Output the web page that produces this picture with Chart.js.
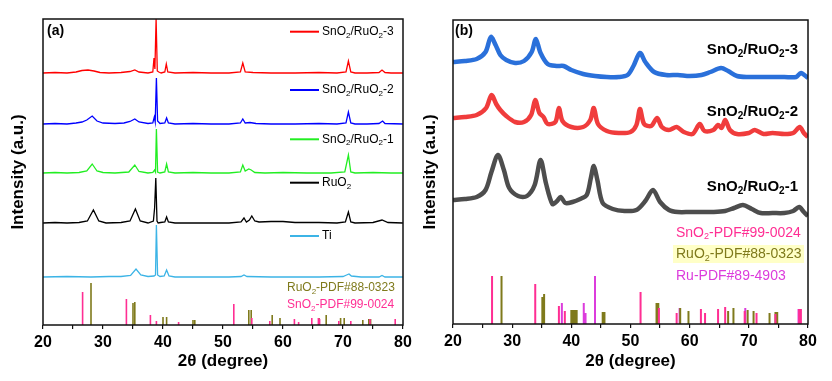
<!DOCTYPE html>
<html><head><meta charset="utf-8">
<script src="https://cdn.jsdelivr.net/npm/chart.js@4"></script>
<style>
html,body{margin:0;padding:0;background:#fff;}
#wrap{position:relative;width:832px;height:381px;background:#fff;}
.panel{position:absolute;top:0;width:416px;height:381px;}
</style></head><body>
<div id="wrap">
<div class="panel" style="left:0"><canvas id="chartA" width="416" height="381"></canvas></div>
<div class="panel" style="left:416px"><canvas id="chartB" width="416" height="381"></canvas></div>
</div>
<script>
// ---- panel (a): stacked XRD patterns (offset intensities, a.u.)
const xA3 = [20,22,24,25.5,26.5,27.5,28.5,29.5,31,33,34.5,35.3,36,37.5,38.3,38.5,38.65,38.85,39.05,39.3,39.7,40.3,40.55,40.8,42,45,48,51,52.9,53.3,53.7,55,58,62,66,69,70.5,70.9,71.3,72,74,76,76.5,77,78,80];
const yA3 = [252,252.5,252,253,254.5,255,254,252.5,252,252.5,253.5,255,253,252,253,267,256,306,254,253,252,253,261,253,252,252.5,252,252,253,262,253,252.5,252,252,252.5,252,253,264,253,252,252,252.5,255,252.5,252,252];

const xA2 = [20,22,24,25.5,26.5,27.3,28.2,29,30,32,33.5,34.5,35.3,36,37.5,38.3,38.55,38.7,38.9,39.1,39.5,40.3,40.6,40.9,42,45,48,51,52.9,53.3,53.7,54.5,55.5,58,62,66,69,70.5,70.9,71.3,72,74,76,76.6,77,80];
const yA2 = [201,201.5,201,202,203,205,209,204,202,201.5,202,203.5,206,203,201.5,202,208,203,247,204,201.5,202,207,202,201,201.5,201,201,202,206,202,202.5,201.5,201,201,201.5,201,202,213,202,201,201,201.5,204,201.5,201];

const xA1 = [20,22,24,26,27.3,28.2,29,30,32,34.3,35.3,36,37.5,38.3,38.6,38.75,38.9,39.1,39.5,40.3,40.6,40.9,42,45,48,51,52.9,53.3,53.7,54.3,54.7,55.3,57,60,64,68,70.3,70.9,71.3,72,75,78,80];
const yA1 = [152,152.5,152,152.5,154,161,154,152.5,152,153,160,153.5,152,152.5,155,153,196,153,152,153,161,153,152,152.5,152,152,153,160,154,156,155,152.5,152,152.5,152,152,153,170,153,152,152.5,152,152];

const xRuO2 = [20,22,24,26,27.4,28.4,29.3,30.5,33,34.5,35.4,36.2,37.5,38.4,38.6,38.8,39.0,39.2,39.6,40.3,40.6,40.9,42,45,48,51,53.0,53.5,53.9,54.4,54.8,55.3,56,58,60,62,66,69,70.4,70.9,71.3,72,75,76.5,77.5,80];
const yRuO2 = [102,102.5,102,102.5,104,115,104,102,102.5,104,116,104,102,104,117,147,104,102,102.5,103,108,103,102,102,102,102,103,107,103,105,109,104,103,103.5,103.5,102.5,102.5,102,103,113,103,102,102.5,105,102.5,102];

const xTi = [20,24,28,31,33,34.6,35.5,36.3,37.5,38.5,38.75,38.9,39.1,39.5,40.2,40.6,41,42,45,48,51,53,53.5,54,58,62,66,70,70.6,71,71.4,73,76,76.5,77,80];
const yTi = [48,48.5,48,48.5,48.5,49.5,56,50,48.5,49,50,100,50,48.5,49,55,49,48,48,48,48,48.5,50,48.5,48,48,48,48.5,50,51,49,48,48,49.5,48,48];

// reference sticks, panel (a)
const snA = [26.6,33.9,37.9,38.9,42.6,51.8,54.8,57.8,61.9,62.6,64.8,65.9,66.1,69.3,71.3,74.5,78.7];
const snAh = [33,26,10,4,3,21,7,4,6,3,7,7,6,4,4,6,6];
const ruoA = [28.0,35.0,35.3,40.0,40.6,45.0,45.3,54.3,54.7,58.2,59.5,66.0,67.2,69.6,70.2,73.3,74.3,74.6];
const ruoAh = [42,22,23,8,8,5,5,15,15,10,7,7,10,7,7,5,6,6];

// ---- panel (b)
const xB3 = [20,22,24,25.5,26.4,27.2,28,29,30.5,32,33.3,34.0,34.8,36,37.5,38.7,40,42,44,46,48,49.5,50.5,51.6,52.5,54,56,58,60,62,63.5,65.3,66.5,68,70,72,74,76,78,78.8,80];
const yB3 = [262,263,265,272,287,279,269,264,261,263,272,285,271,260,258,258,254,250,248,247,247,249,258,271,262,252,249,249,248,249,252,256,253,248,247,247,247,247,247,251,246];

const xB2 = [20,22,24,25.6,26.5,27.3,28,29,30.5,32,33.2,33.9,34.6,35.3,36,37.3,37.9,38.5,40,42,43.2,43.8,44.5,46,48,50,51.0,51.6,52.3,53.5,54.5,55.3,56.5,57.8,59,60.5,61.7,62.5,64,64.8,65.4,66,66.8,68,70,71,72.5,74,76,77.5,78.6,79.3,80];
const yB2 = [206,207,209,216,229,220,214,208,202,202,209,224,211,207,200,202,216,203,197,197,204,216,200,193,191,192,199,215,200,198,206,197,194,197,192,190,200,193,194,199,196,204,194,190,191,194,190,191,190,191,197,191,187];

const xB1 = [20,22,24,25.5,26.5,27.6,28.6,29.5,31,32.5,33.8,34.8,35.7,36.8,37.6,38.2,39,40.2,41.5,42.6,43.3,43.8,44.4,45.3,47,49,51,52.5,53.8,55,56.5,58,60,62,64,66,67.5,69,70.5,72,74,76,77.5,78.5,79.3,80];
const yB1 = [124,125,127,134,152,169,154,136,128,128,139,164,141,120,123,127,121,122,125,129,146,158,144,121,115,113,114,123,134,122,114,112,112,112,112,113,116,119,115,111,111,111,113,117,112,108];

// reference sticks, panel (b)
const snB = [26.6,33.9,37.9,38.9,51.7,54.8,57.8,61.9,62.6,64.8,66.0,69.3,71.3,74.5,78.5,78.8];
const snBh = [48,40,18,13,32,16,11,15,11,15,17,13,11,10,15,15];
const ruoB = [28.2,35.1,35.4,40.0,40.3,40.6,40.9,45.3,45.6,54.4,54.7,58.4,59.8,66.5,67.4,69.8,70.8,73.5,74.5,74.8];
const ruoBh = [48,27,30,14,14,14,14,12,12,21,21,16,13,13,16,14,13,11,12,12];
const ruB = [38.4,42.1,42.4,44.0,58.3,69.4,78.4];
const ruBh = [21,21,11,48,16,16,15];

const xTicks = [20,30,40,50,60,70,80];

const FONT = "'Liberation Sans', Arial, sans-serif";
const PINK = '#ff2e93', OLIVE = '#7f7a1c', MAGENTA = '#dc3cdc';

const toPts = (xs, ys) => xs.map((x, i) => ({x, y: ys[i]}));
const sticks = (xs, hs) => xs.flatMap((x, i) => [{x, y: 0}, {x, y: hs[i]}, {x, y: null}]);

function line(data, color, w, tension) {
  return {data, borderColor: color, borderWidth: w, pointRadius: 0, fill: false, tension: tension || 0, spanGaps: false};
}

// text with "_2" style subscripts
function drawRich(ctx, str, x, y, size, weight, color, align) {
  const parts = str.split(/_(\d)/);
  const big = weight + ' ' + size + 'px ' + FONT;
  const small = weight + ' ' + Math.round(size * 0.66) + 'px ' + FONT;
  let w = 0;
  parts.forEach((p, i) => { ctx.font = i % 2 ? small : big; w += ctx.measureText(p).width; });
  let cx = align === 'right' ? x - w : x;
  ctx.fillStyle = color;
  ctx.textBaseline = 'middle';
  ctx.textAlign = 'left';
  parts.forEach((p, i) => {
    ctx.font = i % 2 ? small : big;
    ctx.fillText(p, cx, i % 2 ? y + size * 0.3 : y);
    cx += ctx.measureText(p).width;
  });
  return w;
}

const framePlugin = {
  id: 'frame',
  afterDatasetsDraw(chart) {
    const {ctx, chartArea: a} = chart;
    ctx.save();
    ctx.strokeStyle = '#111';
    ctx.lineWidth = 1.5;
    ctx.strokeRect(a.left, a.top, a.right - a.left, a.bottom - a.top);
    ctx.restore();
  }
};

function makeChart(id, datasets, yMax, pad, yWidth, xHeight, yTitlePad, drawTexts) {
  return new Chart(document.getElementById(id), {
    type: 'line',
    data: {datasets},
    options: {
      responsive: false,
      animation: false,
      devicePixelRatio: 1,
      layout: {padding: pad},
      plugins: {legend: {display: false}, tooltip: {enabled: false}},
      scales: {
        x: {
          type: 'linear', min: 20, max: 80,
          afterFit(s) { s.height = xHeight; },
          ticks: {
            stepSize: 5, autoSkip: false, maxRotation: 0, padding: 4, color: '#000',
            font: {family: FONT, size: 16, weight: 'bold'},
            callback: v => xTicks.includes(v) ? String(v) : ''
          },
          grid: {display: true, drawOnChartArea: false, drawTicks: true, tickLength: 4, color: '#111', lineWidth: 1.2},
          border: {display: false},
          title: {display: true, text: '2θ (degree)', color: '#000',
                  font: {family: FONT, size: 17, weight: 'bold'}, padding: {top: 0, bottom: 9}}
        },
        y: {
          min: 0, max: yMax,
          afterFit(s) { s.width = yWidth; },
          ticks: {display: false},
          grid: {display: false},
          border: {display: false},
          title: {display: true, text: 'Intensity (a.u.)', color: '#000',
                  font: {family: FONT, size: 17, weight: 'bold'}, padding: {top: yTitlePad, bottom: 0}}
        }
      }
    },
    plugins: [framePlugin, {id: 'texts', afterDraw(chart) { chart.ctx.save(); drawTexts(chart.ctx); chart.ctx.restore(); }}]
  });
}

// panel (a)
makeChart('chartA', [
  line(toPts(xA3, yA3), '#ff0000', 1.3),
  line(toPts(xA2, yA2), '#0000ff', 1.3),
  line(toPts(xA1, yA1), '#22ee22', 1.3),
  line(toPts(xRuO2, yRuO2), '#000000', 1.3),
  line(toPts(xTi, yTi), '#3cb4e6', 1.3),
  line(sticks(snA, snAh), PINK, 1.6),
  line(sticks(ruoA, ruoAh), OLIVE, 1.6)
], 306, {left: 0, top: 19, right: 13, bottom: 0}, 43, 56, 8, ctx => {
  drawRich(ctx, '(a)', 47, 31, 14, 'bold', '#000', 'left');
  const rows = [
    ['SnO_2/RuO_2-3', '#ff0000', 31.7],
    ['SnO_2/RuO_2-2', '#0000ff', 90],
    ['SnO_2/RuO_2-1', '#22ee22', 139.3],
    ['RuO_2', '#000000', 182.7],
    ['Ti', '#3cb4e6', 236]
  ];
  rows.forEach(([t, c, y]) => {
    ctx.strokeStyle = c; ctx.lineWidth = 2;
    ctx.beginPath(); ctx.moveTo(290, y); ctx.lineTo(319, y); ctx.stroke();
    drawRich(ctx, t, 322, y, 12, 'normal', '#000', 'left');
  });
  drawRich(ctx, 'RuO_2-PDF#88-0323', 287, 288, 12, 'normal', OLIVE, 'left');
  drawRich(ctx, 'SnO_2-PDF#99-0024', 287, 305, 12, 'normal', PINK, 'left');
});

// panel (b)
makeChart('chartB', [
  line(toPts(xB3, yB3), '#2a70da', 4.5, 0.3),
  line(toPts(xB2, yB2), '#f03c3c', 4.5, 0.3),
  line(toPts(xB1, yB1), '#4d4d4d', 4.5, 0.3),
  line(sticks(snB, snBh), PINK, 2),
  line(sticks(ruoB, ruoBh), OLIVE, 2),
  line(sticks(ruB, ruBh), MAGENTA, 2)
], 304, {left: 0, top: 20, right: 24, bottom: 0}, 37, 57, 4, ctx => {
  drawRich(ctx, '(b)', 39, 31, 14, 'bold', '#000', 'left');
  drawRich(ctx, 'SnO_2/RuO_2-3', 382, 50, 15, 'bold', '#000', 'right');
  drawRich(ctx, 'SnO_2/RuO_2-2', 382, 111.7, 15, 'bold', '#000', 'right');
  drawRich(ctx, 'SnO_2/RuO_2-1', 382, 186.5, 15, 'bold', '#000', 'right');
  drawRich(ctx, 'SnO_2-PDF#99-0024', 260, 232.7, 14, 'normal', PINK, 'left');
  ctx.fillStyle = 'rgba(255,255,180,0.75)';
  ctx.fillRect(257, 245, 131, 18);
  drawRich(ctx, 'RuO_2-PDF#88-0323', 260, 254, 14, 'normal', OLIVE, 'left');
  drawRich(ctx, 'Ru-PDF#89-4903', 260, 276, 14, 'normal', MAGENTA, 'left');
});
</script>
</body></html>
